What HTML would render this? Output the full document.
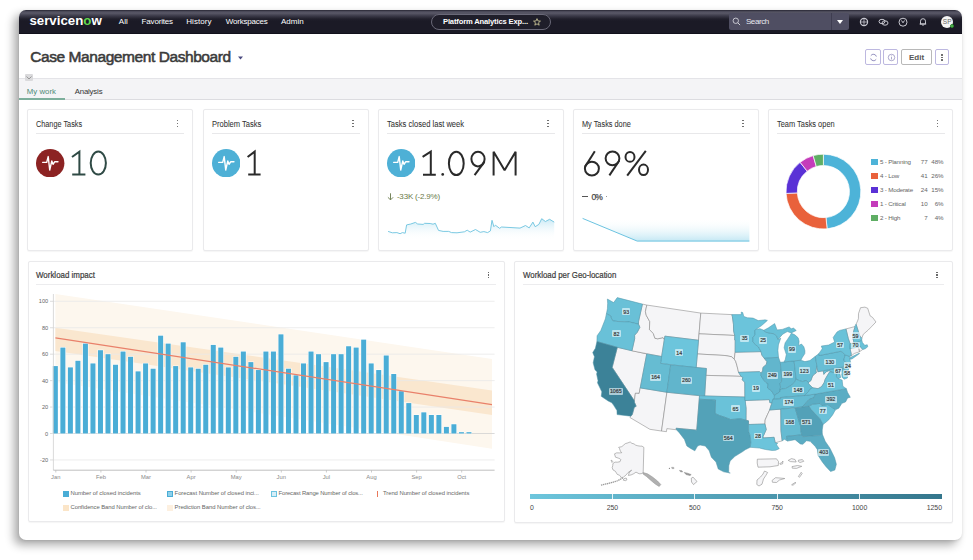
<!DOCTYPE html><html><head><meta charset='utf-8'><style>
*{margin:0;padding:0;box-sizing:border-box}
html,body{width:973px;height:560px;overflow:hidden;background:#fff}
body{position:relative;font-family:"Liberation Sans",sans-serif}
.t{position:absolute;white-space:nowrap;line-height:1}
.thin{-webkit-text-stroke:0.9px #fff}
</style></head><body><div style="position:absolute;left:19px;top:10px;width:943px;height:530px;border-radius:7px;background:#fff;box-shadow:-5px 5px 10px rgba(0,0,0,0.33), 0 1px 3px rgba(0,0,0,0.10)"></div>
<div style="position:absolute;left:19px;top:10px;width:943px;height:530px;border-radius:7px;overflow:hidden">
<div style="position:absolute;left:0;top:0;width:943px;height:24px;background:linear-gradient(to bottom,#262532 0px,#4a4958 1.5px,#5a5968 3px,#3a3947 6px,#201f2b 9px,#1b1a26 11px,#1b1a26 22.5px,#0c0b16 24px)"></div>
</div>
<div class="t " style="left:29.40px;top:14.00px;font-size:13.3px;color:#fff;font-weight:bold;">servicen<span style="color:#62d84e">o</span>w</div>
<div class="t " style="left:118.70px;top:18.00px;font-size:8px;color:#fff;letter-spacing:0.136px;">All</div>
<div class="t " style="left:141.60px;top:18.00px;font-size:8px;color:#fff;letter-spacing:-0.178px;">Favorites</div>
<div class="t " style="left:186.20px;top:18.00px;font-size:8px;color:#fff;letter-spacing:0.073px;">History</div>
<div class="t " style="left:225.80px;top:18.00px;font-size:8px;color:#fff;letter-spacing:-0.207px;">Workspaces</div>
<div class="t " style="left:281.00px;top:18.00px;font-size:8px;color:#fff;letter-spacing:0.025px;">Admin</div>
<div style="position:absolute;left:430.5px;top:14px;width:120px;height:15.5px;border:1px solid #6a6978;border-radius:8px;background:#1f1e2a"></div>
<div class="t " style="left:443.00px;top:18.00px;font-size:7.6px;color:#fff;font-weight:bold;letter-spacing:-0.157px;">Platform Analytics Exp...</div>
<svg style="position:absolute;left:533px;top:18px" width="8" height="8" viewBox="0 0 10 10"><path d="M5 0.8L6.2 3.7 9.3 3.9 6.9 5.9 7.7 9 5 7.3 2.3 9 3.1 5.9 0.7 3.9 3.8 3.7Z" fill="none" stroke="#d8d2a0" stroke-width="1"/></svg>
<div style="position:absolute;left:728.6px;top:13px;width:120px;height:17px;background:#4f4e62;border-radius:2px"></div>
<div style="position:absolute;left:831px;top:13px;width:1px;height:17px;background:#3e3d50"></div>
<svg style="position:absolute;left:732px;top:17px" width="9" height="9" viewBox="0 0 10 10"><circle cx="4.2" cy="4.2" r="3" fill="none" stroke="#d0d0d8" stroke-width="1"/><path d="M6.4 6.4L9 9" stroke="#d0d0d8" stroke-width="1.1"/></svg>
<div class="t " style="left:745.90px;top:18.00px;font-size:8px;color:#e8e8ee;letter-spacing:-0.391px;">Search</div>
<svg style="position:absolute;left:836.5px;top:19.5px" width="6" height="4" viewBox="0 0 6 4"><path d="M0 0H6L3 4Z" fill="#fff"/></svg>
<svg style="position:absolute;left:858px;top:16px" width="12" height="12" viewBox="0 0 12 12"><circle cx="6" cy="6" r="3.6" fill="none" stroke="#c8c8d0" stroke-width="1.2"/><path d="M2.6 6H9.4M6 2.4V9.6" stroke="#c8c8d0" stroke-width="0.8"/></svg>
<svg style="position:absolute;left:877px;top:16px" width="13" height="12" viewBox="0 0 13 12"><ellipse cx="5" cy="5.5" rx="3" ry="2.2" fill="none" stroke="#c8c8d0" stroke-width="1"/><ellipse cx="8" cy="7" rx="3" ry="2.2" fill="none" stroke="#c8c8d0" stroke-width="1"/></svg>
<svg style="position:absolute;left:897px;top:15.5px" width="12" height="12" viewBox="0 0 12 12"><circle cx="6" cy="6.2" r="4" fill="none" stroke="#c8c8d0" stroke-width="1"/><path d="M4.5 4.5L6 6.8 7.5 4.5" fill="none" stroke="#c8c8d0" stroke-width="1"/></svg>
<svg style="position:absolute;left:917px;top:16px" width="12" height="12" viewBox="0 0 12 12"><path d="M3.5 8V5.2A2.5 2.5 0 0 1 8.5 5.2V8H2.8H9.2M5.3 9.2H6.7" fill="none" stroke="#c8c8d0" stroke-width="1"/></svg>
<div style="position:absolute;left:941px;top:15.5px;width:12.4px;height:12.4px;border-radius:50%;background:#f4f4f4"></div>
<div class="t " style="left:942.86px;top:19.00px;font-size:6.5px;color:#666;">SP</div>
<div style="position:absolute;left:949.5px;top:23.5px;width:4.5px;height:4.5px;border-radius:50%;background:#5cb85c;border:0.8px solid #2a8a2a"></div>
<div class="t " style="left:30.20px;top:49.00px;font-size:15.5px;color:#3b3b3b;letter-spacing:-0.424px;-webkit-text-stroke:0.55px #3b3b3b;">Case Management Dashboard</div>
<svg style="position:absolute;left:238px;top:56px" width="5" height="4" viewBox="0 0 5 4"><path d="M0 0.5H5L2.5 3.5Z" fill="#4a4a80"/></svg>
<div style="position:absolute;left:865px;top:49.4px;width:15.5px;height:15.3px;border:1px solid #bdb8e0;border-radius:2px;background:#fff"></div>
<div style="position:absolute;left:883.4px;top:49.4px;width:14.6px;height:15.3px;border:1px solid #bdb8e0;border-radius:2px;background:#fff"></div>
<div style="position:absolute;left:901.4px;top:49.4px;width:30.3px;height:15.3px;border:1px solid #b8b8b8;border-radius:2px;background:#fff"></div>
<div style="position:absolute;left:934.6px;top:49.4px;width:14.7px;height:15.3px;border:1px solid #bdb8e0;border-radius:2px;background:#fff"></div>
<svg style="position:absolute;left:868.5px;top:52.8px" width="9" height="9" viewBox="0 0 10 10"><path d="M8.2 4A3.4 3.4 0 0 0 2 3M1.8 6A3.4 3.4 0 0 0 8 7" fill="none" stroke="#8884b8" stroke-width="1"/></svg>
<svg style="position:absolute;left:886.5px;top:52.8px" width="9" height="9" viewBox="0 0 10 10"><circle cx="5" cy="5" r="3.6" fill="none" stroke="#9995c0" stroke-width="0.9"/><path d="M5 4.2V7.2M5 2.8V3.4" stroke="#9995c0" stroke-width="0.9"/></svg>
<div class="t " style="left:908.95px;top:54.00px;font-size:8px;color:#555;font-weight:bold;">Edit</div>
<div style="position:absolute;left:941.3px;top:54.3px;width:1.3px;height:1.3px;background:#707070"></div>
<div style="position:absolute;left:941.3px;top:56.8px;width:1.3px;height:1.3px;background:#707070"></div>
<div style="position:absolute;left:941.3px;top:59.3px;width:1.3px;height:1.3px;background:#707070"></div>
<div style="position:absolute;left:19px;top:77.5px;width:943px;height:22.5px;background:#f4f4f6;border-top:1px solid #e4e4e8;border-bottom:1px solid #dcdce0"></div>
<div style="position:absolute;left:25px;top:74.2px;width:7.6px;height:7.2px;background:#dadadc;border-radius:1px"></div>
<svg style="position:absolute;left:26px;top:75.5px" width="6" height="4" viewBox="0 0 6 4"><path d="M0.5 0.5L3 3 5.5 0.5" fill="none" stroke="#888" stroke-width="0.8"/></svg>
<div class="t " style="left:26.70px;top:88.00px;font-size:7.8px;color:#4f8a77;letter-spacing:0.052px;">My work</div>
<div style="position:absolute;left:19px;top:98px;width:45.7px;height:1.8px;background:#7daf9c"></div>
<div class="t " style="left:74.70px;top:88.00px;font-size:7.8px;color:#333;letter-spacing:-0.168px;">Analysis</div>
<div style="position:absolute;left:27.2px;top:109.2px;width:165.6px;height:141.4px;background:#fff;border:1px solid #eaeaec;border-radius:2px;box-shadow:0 0.5px 1px rgba(0,0,0,0.04)"></div>
<div class="t" style="left:35.70px;top:120.00px;font-size:8.9px;color:#333;transform:scaleX(0.8215);transform-origin:0 0;-webkit-text-stroke:0.05px #333;">Change Tasks</div>
<div style="position:absolute;left:35.7px;top:133px;width:148.6px;height:1px;background:#e8e8ea"></div>
<div style="position:absolute;left:176.6px;top:119.89999999999999px;width:1.4px;height:1.4px;background:#6a6a6a;border-radius:0.3px"></div>
<div style="position:absolute;left:176.6px;top:122.7px;width:1.4px;height:1.4px;background:#6a6a6a;border-radius:0.3px"></div>
<div style="position:absolute;left:176.6px;top:125.5px;width:1.4px;height:1.4px;background:#6a6a6a;border-radius:0.3px"></div>
<div style="position:absolute;left:203px;top:109.2px;width:165.6px;height:141.4px;background:#fff;border:1px solid #eaeaec;border-radius:2px;box-shadow:0 0.5px 1px rgba(0,0,0,0.04)"></div>
<div class="t" style="left:211.50px;top:120.00px;font-size:8.9px;color:#333;transform:scaleX(0.8505);transform-origin:0 0;-webkit-text-stroke:0.05px #333;">Problem Tasks</div>
<div style="position:absolute;left:211.5px;top:133px;width:148.6px;height:1px;background:#e8e8ea"></div>
<div style="position:absolute;left:352.4px;top:119.89999999999999px;width:1.4px;height:1.4px;background:#6a6a6a;border-radius:0.3px"></div>
<div style="position:absolute;left:352.4px;top:122.7px;width:1.4px;height:1.4px;background:#6a6a6a;border-radius:0.3px"></div>
<div style="position:absolute;left:352.4px;top:125.5px;width:1.4px;height:1.4px;background:#6a6a6a;border-radius:0.3px"></div>
<div style="position:absolute;left:378px;top:109.2px;width:185.5px;height:141.4px;background:#fff;border:1px solid #eaeaec;border-radius:2px;box-shadow:0 0.5px 1px rgba(0,0,0,0.04)"></div>
<div class="t" style="left:386.50px;top:120.00px;font-size:8.9px;color:#333;transform:scaleX(0.8539);transform-origin:0 0;-webkit-text-stroke:0.05px #333;">Tasks closed last week</div>
<div style="position:absolute;left:386.5px;top:133px;width:168.5px;height:1px;background:#e8e8ea"></div>
<div style="position:absolute;left:547.3px;top:119.89999999999999px;width:1.4px;height:1.4px;background:#6a6a6a;border-radius:0.3px"></div>
<div style="position:absolute;left:547.3px;top:122.7px;width:1.4px;height:1.4px;background:#6a6a6a;border-radius:0.3px"></div>
<div style="position:absolute;left:547.3px;top:125.5px;width:1.4px;height:1.4px;background:#6a6a6a;border-radius:0.3px"></div>
<div style="position:absolute;left:573px;top:109.2px;width:185.5px;height:141.4px;background:#fff;border:1px solid #eaeaec;border-radius:2px;box-shadow:0 0.5px 1px rgba(0,0,0,0.04)"></div>
<div class="t" style="left:581.50px;top:120.00px;font-size:8.9px;color:#333;transform:scaleX(0.8277);transform-origin:0 0;-webkit-text-stroke:0.05px #333;">My Tasks done</div>
<div style="position:absolute;left:581.5px;top:133px;width:168.5px;height:1px;background:#e8e8ea"></div>
<div style="position:absolute;left:742.3px;top:119.89999999999999px;width:1.4px;height:1.4px;background:#6a6a6a;border-radius:0.3px"></div>
<div style="position:absolute;left:742.3px;top:122.7px;width:1.4px;height:1.4px;background:#6a6a6a;border-radius:0.3px"></div>
<div style="position:absolute;left:742.3px;top:125.5px;width:1.4px;height:1.4px;background:#6a6a6a;border-radius:0.3px"></div>
<div style="position:absolute;left:768px;top:109.2px;width:185px;height:141.4px;background:#fff;border:1px solid #eaeaec;border-radius:2px;box-shadow:0 0.5px 1px rgba(0,0,0,0.04)"></div>
<div class="t" style="left:776.50px;top:120.00px;font-size:8.9px;color:#333;transform:scaleX(0.8365);transform-origin:0 0;-webkit-text-stroke:0.05px #333;">Team Tasks open</div>
<div style="position:absolute;left:776.5px;top:133px;width:168px;height:1px;background:#e8e8ea"></div>
<div style="position:absolute;left:936.8px;top:119.89999999999999px;width:1.4px;height:1.4px;background:#6a6a6a;border-radius:0.3px"></div>
<div style="position:absolute;left:936.8px;top:122.7px;width:1.4px;height:1.4px;background:#6a6a6a;border-radius:0.3px"></div>
<div style="position:absolute;left:936.8px;top:125.5px;width:1.4px;height:1.4px;background:#6a6a6a;border-radius:0.3px"></div>
<svg style="position:absolute;left:36.40px;top:149.00px" width="28.40" height="28.40" viewBox="-15 -15 30 30"><circle cx="0" cy="0" r="15" fill="#8c2323"/><path d="M-8 -0.9H-3.7L-2.1 -7L-0.5 7.2L1.7 -2.4L3 1.2L4.7 -1.5H8.2" fill="none" stroke="#fff" stroke-width="1.5" stroke-linejoin="round" stroke-linecap="round"/></svg>
<svg style="position:absolute;left:211.70px;top:148.90px" width="28.40" height="28.40" viewBox="-15 -15 30 30"><circle cx="0" cy="0" r="15" fill="#4eb0d6"/><path d="M-8 -0.9H-3.7L-2.1 -7L-0.5 7.2L1.7 -2.4L3 1.2L4.7 -1.5H8.2" fill="none" stroke="#fff" stroke-width="1.5" stroke-linejoin="round" stroke-linecap="round"/></svg>
<svg style="position:absolute;left:387.00px;top:149.00px" width="28.40" height="28.40" viewBox="-15 -15 30 30"><circle cx="0" cy="0" r="15" fill="#4eb0d6"/><path d="M-8 -0.9H-3.7L-2.1 -7L-0.5 7.2L1.7 -2.4L3 1.2L4.7 -1.5H8.2" fill="none" stroke="#fff" stroke-width="1.5" stroke-linejoin="round" stroke-linecap="round"/></svg>
<svg style="position:absolute;left:0;top:0" width="973" height="560" fill="none" stroke-linecap="butt">
<g stroke="#2f4a45" stroke-width="2.0"><path d="M72 157L79.4 151.6V174.6M72.2 174.6H85.4"/><ellipse cx="98.3" cy="163.1" rx="7.6" ry="11.5"/></g>
<g stroke="#2a2a2a" stroke-width="2.0">
<path d="M247.6 157L254.7 151.6V174.4M248.2 174.4H260.6"/>
<path d="M422.6 156.8L430.8 151.6V174.7M423 174.7H435.8"/>
<ellipse cx="456.3" cy="163.4" rx="7.4" ry="11.7"/>
<ellipse cx="478" cy="159.1" rx="6.6" ry="7.3"/><path d="M484.4 161.8L474.6 175.2"/>
<path d="M493.6 175.6V151.8L504.6 170.2L515.6 151.8V175.6" stroke-linejoin="bevel"/>
<ellipse cx="591.9" cy="168.6" rx="7.0" ry="6.8"/><path d="M594.8 151.2L585.4 166.3"/>
<ellipse cx="612.5" cy="158.3" rx="6.9" ry="6.9"/><path d="M619.2 160.8L609.4 175.4"/>
<ellipse cx="630" cy="156.9" rx="4.5" ry="4.9"/><ellipse cx="643.5" cy="169.8" rx="4.5" ry="5.2"/><path d="M645.8 150.8L627.2 175.6"/>
</g><circle cx="442.7" cy="174.4" r="1.35" fill="#2a2a2a"/></svg>
<svg style="position:absolute;left:387px;top:192.8px" width="7" height="7.5" viewBox="0 0 7 7.5"><path d="M3.5 0.3V6.8M0.9 4.3L3.5 6.9 6.1 4.3" fill="none" stroke="#68784a" stroke-width="0.9"/></svg>
<div class="t " style="left:396.90px;top:193.00px;font-size:8px;color:#6a7a48;letter-spacing:-0.187px;">-33K (-2.9%)</div>
<div style="position:absolute;left:582.3px;top:196.1px;width:5.8px;height:1.0px;background:#555"></div>
<div class="t " style="left:591.40px;top:193.00px;font-size:8.5px;color:#4a4a4a;letter-spacing:-0.893px;-webkit-text-stroke:0.25px #4a4a4a;">0%</div>
<div style="position:absolute;left:606px;top:196.2px;width:0.9px;height:0.9px;background:#999"></div>
<svg style="position:absolute;left:0;top:0" width="973" height="560"><defs>
<linearGradient id="g3" x1="0" y1="218" x2="0" y2="240" gradientUnits="userSpaceOnUse"><stop offset="0" stop-color="#bfe5f3" stop-opacity="0.9"/><stop offset="1" stop-color="#ffffff" stop-opacity="0"/></linearGradient>
<linearGradient id="g4" x1="0" y1="218" x2="0" y2="241" gradientUnits="userSpaceOnUse"><stop offset="0" stop-color="#ffffff" stop-opacity="0"/><stop offset="1" stop-color="#c4e8f4" stop-opacity="1"/></linearGradient>
</defs>
<polygon points="388.1,231.4 392.3,232.8 396.9,232.6 400.1,233.7 402.4,232.6 405.2,233.2 406.6,224.9 410.8,224.0 415.4,222.4 417.7,224.0 423.2,224.4 424.6,223.3 430.2,223.5 433.0,224.2 435.3,223.3 438.5,230.4 443.1,231.4 448.7,231.4 451.5,232.6 457.0,232.8 464.4,231.8 467.2,230.2 470.2,232.1 475.5,229.5 480.2,232.3 483.9,231.6 487.6,232.6 490.4,230.9 492.0,220.3 493.9,226.7 495.4,225.2 499.6,228.3 501.5,227.0 520.0,228.1 525.5,225.5 529.2,227.9 532.9,222.1 535.2,226.7 538.9,224.4 541.7,218.7 545.4,221.5 549.6,219.3 554.2,222.1 554.2,240 388.1,240" fill="url(#g3)"/>
<polyline points="388.1,231.4 392.3,232.8 396.9,232.6 400.1,233.7 402.4,232.6 405.2,233.2 406.6,224.9 410.8,224.0 415.4,222.4 417.7,224.0 423.2,224.4 424.6,223.3 430.2,223.5 433.0,224.2 435.3,223.3 438.5,230.4 443.1,231.4 448.7,231.4 451.5,232.6 457.0,232.8 464.4,231.8 467.2,230.2 470.2,232.1 475.5,229.5 480.2,232.3 483.9,231.6 487.6,232.6 490.4,230.9 492.0,220.3 493.9,226.7 495.4,225.2 499.6,228.3 501.5,227.0 520.0,228.1 525.5,225.5 529.2,227.9 532.9,222.1 535.2,226.7 538.9,224.4 541.7,218.7 545.4,221.5 549.6,219.3 554.2,222.1" fill="none" stroke="#6cc3df" stroke-width="0.9"/>
<polygon points="583,218.4 749.4,218.4 749.4,241.1 637.2,241.1" fill="url(#g4)"/>
<polyline points="582.6,218.4 637.2,241.1 749.4,241.1" fill="none" stroke="#5bbcdc" stroke-width="0.9"/>
</svg>
<svg style="position:absolute;left:0;top:0" width="973" height="560"><path d="M823.40 154.20A37.4 37.4 0 0 1 827.09 228.82L825.97 217.57A26.1 26.1 0 0 0 823.40 165.50Z" fill="#4db3d8" stroke="#fff" stroke-width="0.7"/><path d="M827.09 228.82A37.4 37.4 0 0 1 786.05 193.45L797.33 192.89A26.1 26.1 0 0 0 825.97 217.57Z" fill="#e9613b" stroke="#fff" stroke-width="0.7"/><path d="M786.05 193.45A37.4 37.4 0 0 1 800.12 162.33L807.16 171.17A26.1 26.1 0 0 0 797.33 192.89Z" fill="#5a31d6" stroke="#fff" stroke-width="0.7"/><path d="M800.12 162.33A37.4 37.4 0 0 1 813.19 155.62L816.27 166.49A26.1 26.1 0 0 0 807.16 171.17Z" fill="#c43cba" stroke="#fff" stroke-width="0.7"/><path d="M813.19 155.62A37.4 37.4 0 0 1 823.40 154.20L823.40 165.50A26.1 26.1 0 0 0 816.27 166.49Z" fill="#5fae64" stroke="#fff" stroke-width="0.7"/></svg>
<div style="position:absolute;left:871.4px;top:158.9px;width:6.2px;height:6.4px;background:#4db3d8"></div>
<div class="t " style="left:880.00px;top:159.00px;font-size:6.2px;color:#666;letter-spacing:-0.18px;">5 - Planning</div>
<div class="t " style="left:920.70px;top:159.00px;font-size:6.2px;color:#666;">77</div>
<div class="t " style="left:931.19px;top:159.00px;font-size:6.2px;color:#666;">48%</div>
<div style="position:absolute;left:871.4px;top:172.85px;width:6.2px;height:6.4px;background:#e9613b"></div>
<div class="t " style="left:880.00px;top:173.00px;font-size:6.2px;color:#666;letter-spacing:-0.18px;">4 - Low</div>
<div class="t " style="left:920.70px;top:173.00px;font-size:6.2px;color:#666;">41</div>
<div class="t " style="left:931.19px;top:173.00px;font-size:6.2px;color:#666;">26%</div>
<div style="position:absolute;left:871.4px;top:186.8px;width:6.2px;height:6.4px;background:#5a31d6"></div>
<div class="t " style="left:880.00px;top:187.00px;font-size:6.2px;color:#666;letter-spacing:-0.18px;">3 - Moderate</div>
<div class="t " style="left:920.70px;top:187.00px;font-size:6.2px;color:#666;">24</div>
<div class="t " style="left:931.19px;top:187.00px;font-size:6.2px;color:#666;">15%</div>
<div style="position:absolute;left:871.4px;top:200.75px;width:6.2px;height:6.4px;background:#c43cba"></div>
<div class="t " style="left:880.00px;top:201.00px;font-size:6.2px;color:#666;letter-spacing:-0.18px;">1 - Critical</div>
<div class="t " style="left:920.70px;top:201.00px;font-size:6.2px;color:#666;">10</div>
<div class="t " style="left:934.64px;top:201.00px;font-size:6.2px;color:#666;">6%</div>
<div style="position:absolute;left:871.4px;top:214.7px;width:6.2px;height:6.4px;background:#5fae64"></div>
<div class="t " style="left:880.00px;top:215.00px;font-size:6.2px;color:#666;letter-spacing:-0.18px;">2 - High</div>
<div class="t " style="left:924.15px;top:215.00px;font-size:6.2px;color:#666;">7</div>
<div class="t " style="left:934.64px;top:215.00px;font-size:6.2px;color:#666;">4%</div>
<div style="position:absolute;left:27.5px;top:261px;width:477px;height:260.5px;background:#fff;border:1px solid #eaeaec;border-radius:2px;box-shadow:0 0.5px 1px rgba(0,0,0,0.04)"></div>
<div class="t" style="left:35.80px;top:271.00px;font-size:8.9px;color:#3a3a3a;transform:scaleX(0.8939);transform-origin:0 0;-webkit-text-stroke:0.2px #3a3a3a;">Workload impact</div>
<div style="position:absolute;left:35.8px;top:284.2px;width:460px;height:1px;background:#ececee"></div>
<div style="position:absolute;left:488.0px;top:271.5px;width:1.4px;height:1.4px;background:#6a6a6a"></div>
<div style="position:absolute;left:488.0px;top:274.3px;width:1.4px;height:1.4px;background:#6a6a6a"></div>
<div style="position:absolute;left:488.0px;top:277.1px;width:1.4px;height:1.4px;background:#6a6a6a"></div>
<div style="position:absolute;left:514px;top:261px;width:439px;height:261.5px;background:#fff;border:1px solid #eaeaec;border-radius:2px;box-shadow:0 0.5px 1px rgba(0,0,0,0.04)"></div>
<div class="t" style="left:523.40px;top:271.00px;font-size:8.9px;color:#3a3a3a;transform:scaleX(0.8855);transform-origin:0 0;-webkit-text-stroke:0.2px #3a3a3a;">Workload per Geo-location</div>
<div style="position:absolute;left:523.4px;top:284.2px;width:421px;height:1px;background:#ececee"></div>
<div style="position:absolute;left:936.4px;top:271.5px;width:1.4px;height:1.4px;background:#6a6a6a"></div>
<div style="position:absolute;left:936.4px;top:274.3px;width:1.4px;height:1.4px;background:#6a6a6a"></div>
<div style="position:absolute;left:936.4px;top:277.1px;width:1.4px;height:1.4px;background:#6a6a6a"></div>
<svg style="position:absolute;left:0;top:0" width="973" height="560"><polygon points="55.4,294.03 492.0,358.94 492.0,448.70 55.4,381.94" fill="#fdf7ee"/><polygon points="55.4,327.74 492.0,390.53 492.0,415.12 55.4,350.88" fill="#fae7cf"/><line x1="53.4" y1="301.30" x2="494.6" y2="301.30" stroke="#e9e9e9" stroke-width="0.8"/><line x1="50" y1="301.30" x2="53.4" y2="301.30" stroke="#cfcfcf" stroke-width="0.7"/><line x1="53.4" y1="327.74" x2="494.6" y2="327.74" stroke="#e9e9e9" stroke-width="0.8"/><line x1="50" y1="327.74" x2="53.4" y2="327.74" stroke="#cfcfcf" stroke-width="0.7"/><line x1="53.4" y1="354.18" x2="494.6" y2="354.18" stroke="#e9e9e9" stroke-width="0.8"/><line x1="50" y1="354.18" x2="53.4" y2="354.18" stroke="#cfcfcf" stroke-width="0.7"/><line x1="53.4" y1="380.62" x2="494.6" y2="380.62" stroke="#e9e9e9" stroke-width="0.8"/><line x1="50" y1="380.62" x2="53.4" y2="380.62" stroke="#cfcfcf" stroke-width="0.7"/><line x1="53.4" y1="407.06" x2="494.6" y2="407.06" stroke="#e9e9e9" stroke-width="0.8"/><line x1="50" y1="407.06" x2="53.4" y2="407.06" stroke="#cfcfcf" stroke-width="0.7"/><line x1="53.4" y1="433.50" x2="494.6" y2="433.50" stroke="#d0d0d0" stroke-width="0.8"/><line x1="50" y1="433.50" x2="53.4" y2="433.50" stroke="#cfcfcf" stroke-width="0.7"/><line x1="53.4" y1="459.94" x2="494.6" y2="459.94" stroke="#e9e9e9" stroke-width="0.8"/><line x1="50" y1="459.94" x2="53.4" y2="459.94" stroke="#cfcfcf" stroke-width="0.7"/><rect x="52.35" y="365.58" width="6.0" height="67.92" fill="#fff"/><rect x="52.85" y="366.08" width="5.0" height="67.42" fill="#4aadd6"/><rect x="59.87" y="347.07" width="6.0" height="86.43" fill="#fff"/><rect x="60.37" y="347.57" width="5.0" height="85.93" fill="#4aadd6"/><rect x="67.39" y="366.90" width="6.0" height="66.60" fill="#fff"/><rect x="67.89" y="367.40" width="5.0" height="66.10" fill="#4aadd6"/><rect x="74.91" y="360.29" width="6.0" height="73.21" fill="#fff"/><rect x="75.41" y="360.79" width="5.0" height="72.71" fill="#4aadd6"/><rect x="82.43" y="343.10" width="6.0" height="90.40" fill="#fff"/><rect x="82.93" y="343.60" width="5.0" height="89.90" fill="#4aadd6"/><rect x="89.95" y="362.93" width="6.0" height="70.57" fill="#fff"/><rect x="90.45" y="363.43" width="5.0" height="70.07" fill="#4aadd6"/><rect x="97.47" y="349.71" width="6.0" height="83.79" fill="#fff"/><rect x="97.97" y="350.21" width="5.0" height="83.29" fill="#4aadd6"/><rect x="104.99" y="353.68" width="6.0" height="79.82" fill="#fff"/><rect x="105.49" y="354.18" width="5.0" height="79.32" fill="#4aadd6"/><rect x="112.51" y="364.26" width="6.0" height="69.24" fill="#fff"/><rect x="113.01" y="364.76" width="5.0" height="68.74" fill="#4aadd6"/><rect x="120.03" y="351.04" width="6.0" height="82.46" fill="#fff"/><rect x="120.53" y="351.54" width="5.0" height="81.96" fill="#4aadd6"/><rect x="127.55" y="356.32" width="6.0" height="77.18" fill="#fff"/><rect x="128.05" y="356.82" width="5.0" height="76.68" fill="#4aadd6"/><rect x="135.07" y="370.87" width="6.0" height="62.63" fill="#fff"/><rect x="135.57" y="371.37" width="5.0" height="62.13" fill="#4aadd6"/><rect x="142.59" y="362.93" width="6.0" height="70.57" fill="#fff"/><rect x="143.09" y="363.43" width="5.0" height="70.07" fill="#4aadd6"/><rect x="150.11" y="368.22" width="6.0" height="65.28" fill="#fff"/><rect x="150.61" y="368.72" width="5.0" height="64.78" fill="#4aadd6"/><rect x="157.63" y="335.17" width="6.0" height="98.33" fill="#fff"/><rect x="158.13" y="335.67" width="5.0" height="97.83" fill="#4aadd6"/><rect x="165.15" y="343.10" width="6.0" height="90.40" fill="#fff"/><rect x="165.65" y="343.60" width="5.0" height="89.90" fill="#4aadd6"/><rect x="172.67" y="365.58" width="6.0" height="67.92" fill="#fff"/><rect x="173.17" y="366.08" width="5.0" height="67.42" fill="#4aadd6"/><rect x="180.19" y="341.78" width="6.0" height="91.72" fill="#fff"/><rect x="180.69" y="342.28" width="5.0" height="91.22" fill="#4aadd6"/><rect x="187.71" y="366.90" width="6.0" height="66.60" fill="#fff"/><rect x="188.21" y="367.40" width="5.0" height="66.10" fill="#4aadd6"/><rect x="195.23" y="368.22" width="6.0" height="65.28" fill="#fff"/><rect x="195.73" y="368.72" width="5.0" height="64.78" fill="#4aadd6"/><rect x="202.75" y="364.26" width="6.0" height="69.24" fill="#fff"/><rect x="203.25" y="364.76" width="5.0" height="68.74" fill="#4aadd6"/><rect x="210.27" y="344.43" width="6.0" height="89.07" fill="#fff"/><rect x="210.77" y="344.93" width="5.0" height="88.57" fill="#4aadd6"/><rect x="217.79" y="347.07" width="6.0" height="86.43" fill="#fff"/><rect x="218.29" y="347.57" width="5.0" height="85.93" fill="#4aadd6"/><rect x="225.31" y="366.90" width="6.0" height="66.60" fill="#fff"/><rect x="225.81" y="367.40" width="5.0" height="66.10" fill="#4aadd6"/><rect x="232.83" y="356.32" width="6.0" height="77.18" fill="#fff"/><rect x="233.33" y="356.82" width="5.0" height="76.68" fill="#4aadd6"/><rect x="240.35" y="351.04" width="6.0" height="82.46" fill="#fff"/><rect x="240.85" y="351.54" width="5.0" height="81.96" fill="#4aadd6"/><rect x="247.87" y="361.61" width="6.0" height="71.89" fill="#fff"/><rect x="248.37" y="362.11" width="5.0" height="71.39" fill="#4aadd6"/><rect x="255.39" y="369.54" width="6.0" height="63.96" fill="#fff"/><rect x="255.89" y="370.04" width="5.0" height="63.46" fill="#4aadd6"/><rect x="262.91" y="351.04" width="6.0" height="82.46" fill="#fff"/><rect x="263.41" y="351.54" width="5.0" height="81.96" fill="#4aadd6"/><rect x="270.43" y="351.04" width="6.0" height="82.46" fill="#fff"/><rect x="270.93" y="351.54" width="5.0" height="81.96" fill="#4aadd6"/><rect x="277.95" y="333.85" width="6.0" height="99.65" fill="#fff"/><rect x="278.45" y="334.35" width="5.0" height="99.15" fill="#4aadd6"/><rect x="285.47" y="368.22" width="6.0" height="65.28" fill="#fff"/><rect x="285.97" y="368.72" width="5.0" height="64.78" fill="#4aadd6"/><rect x="292.99" y="374.83" width="6.0" height="58.67" fill="#fff"/><rect x="293.49" y="375.33" width="5.0" height="58.17" fill="#4aadd6"/><rect x="300.51" y="362.93" width="6.0" height="70.57" fill="#fff"/><rect x="301.01" y="363.43" width="5.0" height="70.07" fill="#4aadd6"/><rect x="308.03" y="351.04" width="6.0" height="82.46" fill="#fff"/><rect x="308.53" y="351.54" width="5.0" height="81.96" fill="#4aadd6"/><rect x="315.55" y="353.68" width="6.0" height="79.82" fill="#fff"/><rect x="316.05" y="354.18" width="5.0" height="79.32" fill="#4aadd6"/><rect x="323.07" y="361.61" width="6.0" height="71.89" fill="#fff"/><rect x="323.57" y="362.11" width="5.0" height="71.39" fill="#4aadd6"/><rect x="330.59" y="353.68" width="6.0" height="79.82" fill="#fff"/><rect x="331.09" y="354.18" width="5.0" height="79.32" fill="#4aadd6"/><rect x="338.11" y="353.68" width="6.0" height="79.82" fill="#fff"/><rect x="338.61" y="354.18" width="5.0" height="79.32" fill="#4aadd6"/><rect x="345.63" y="345.75" width="6.0" height="87.75" fill="#fff"/><rect x="346.13" y="346.25" width="5.0" height="87.25" fill="#4aadd6"/><rect x="353.15" y="347.07" width="6.0" height="86.43" fill="#fff"/><rect x="353.65" y="347.57" width="5.0" height="85.93" fill="#4aadd6"/><rect x="360.67" y="339.14" width="6.0" height="94.36" fill="#fff"/><rect x="361.17" y="339.64" width="5.0" height="93.86" fill="#4aadd6"/><rect x="368.19" y="362.93" width="6.0" height="70.57" fill="#fff"/><rect x="368.69" y="363.43" width="5.0" height="70.07" fill="#4aadd6"/><rect x="375.71" y="369.54" width="6.0" height="63.96" fill="#fff"/><rect x="376.21" y="370.04" width="5.0" height="63.46" fill="#4aadd6"/><rect x="383.23" y="355.00" width="6.0" height="78.50" fill="#fff"/><rect x="383.73" y="355.50" width="5.0" height="78.00" fill="#4aadd6"/><rect x="390.75" y="373.51" width="6.0" height="59.99" fill="#fff"/><rect x="391.25" y="374.01" width="5.0" height="59.49" fill="#4aadd6"/><rect x="398.27" y="390.70" width="6.0" height="42.80" fill="#fff"/><rect x="398.77" y="391.20" width="5.0" height="42.30" fill="#4aadd6"/><rect x="405.79" y="402.59" width="6.0" height="30.91" fill="#fff"/><rect x="406.29" y="403.09" width="5.0" height="30.41" fill="#4aadd6"/><rect x="413.31" y="414.49" width="6.0" height="19.01" fill="#fff"/><rect x="413.81" y="414.99" width="5.0" height="18.51" fill="#4aadd6"/><rect x="420.83" y="411.85" width="6.0" height="21.65" fill="#fff"/><rect x="421.33" y="412.35" width="5.0" height="21.15" fill="#4aadd6"/><rect x="428.35" y="414.49" width="6.0" height="19.01" fill="#fff"/><rect x="428.85" y="414.99" width="5.0" height="18.51" fill="#4aadd6"/><rect x="435.87" y="414.49" width="6.0" height="19.01" fill="#fff"/><rect x="436.37" y="414.99" width="5.0" height="18.51" fill="#4aadd6"/><rect x="443.39" y="426.39" width="6.0" height="7.11" fill="#fff"/><rect x="443.89" y="426.89" width="5.0" height="6.61" fill="#4aadd6"/><rect x="450.91" y="423.75" width="6.0" height="9.75" fill="#fff"/><rect x="451.41" y="424.25" width="5.0" height="9.25" fill="#4aadd6"/><rect x="458.43" y="431.68" width="6.0" height="1.82" fill="#fff"/><rect x="458.93" y="432.18" width="5.0" height="1.32" fill="#4aadd6"/><rect x="465.95" y="431.68" width="6.0" height="1.82" fill="#fff"/><rect x="466.45" y="432.18" width="5.0" height="1.32" fill="#4aadd6"/><line x1="55.4" y1="337.92" x2="492.0" y2="404.55" stroke="#e9806a" stroke-width="1.2"/><line x1="53.4" y1="294" x2="53.4" y2="470.2" stroke="#d0d0d0" stroke-width="0.8"/><line x1="53.4" y1="470.2" x2="494.6" y2="470.2" stroke="#b8b8b8" stroke-width="0.9"/><line x1="55.80" y1="470.2" x2="55.80" y2="472.5" stroke="#b8b8b8" stroke-width="0.7"/><line x1="100.90" y1="470.2" x2="100.90" y2="472.5" stroke="#b8b8b8" stroke-width="0.7"/><line x1="146.00" y1="470.2" x2="146.00" y2="472.5" stroke="#b8b8b8" stroke-width="0.7"/><line x1="191.10" y1="470.2" x2="191.10" y2="472.5" stroke="#b8b8b8" stroke-width="0.7"/><line x1="236.20" y1="470.2" x2="236.20" y2="472.5" stroke="#b8b8b8" stroke-width="0.7"/><line x1="281.30" y1="470.2" x2="281.30" y2="472.5" stroke="#b8b8b8" stroke-width="0.7"/><line x1="326.40" y1="470.2" x2="326.40" y2="472.5" stroke="#b8b8b8" stroke-width="0.7"/><line x1="371.50" y1="470.2" x2="371.50" y2="472.5" stroke="#b8b8b8" stroke-width="0.7"/><line x1="416.60" y1="470.2" x2="416.60" y2="472.5" stroke="#b8b8b8" stroke-width="0.7"/><line x1="461.70" y1="470.2" x2="461.70" y2="472.5" stroke="#b8b8b8" stroke-width="0.7"/></svg>
<div class="t " style="left:38.86px;top:299.00px;font-size:5.6px;color:#666;">100</div>
<div class="t " style="left:41.97px;top:326.00px;font-size:5.6px;color:#666;">80</div>
<div class="t " style="left:41.97px;top:352.00px;font-size:5.6px;color:#666;">60</div>
<div class="t " style="left:41.97px;top:379.00px;font-size:5.6px;color:#666;">40</div>
<div class="t " style="left:41.97px;top:405.00px;font-size:5.6px;color:#666;">20</div>
<div class="t " style="left:45.09px;top:432.00px;font-size:5.6px;color:#666;">0</div>
<div class="t " style="left:40.11px;top:458.00px;font-size:5.6px;color:#666;">-20</div>
<div class="t " style="left:51.12px;top:475.00px;font-size:5.8px;color:#8a8a8a;">Jan</div>
<div class="t " style="left:95.90px;top:475.00px;font-size:5.8px;color:#8a8a8a;">Feb</div>
<div class="t " style="left:141.01px;top:475.00px;font-size:5.8px;color:#8a8a8a;">Mar</div>
<div class="t " style="left:186.59px;top:475.00px;font-size:5.8px;color:#8a8a8a;">Apr</div>
<div class="t " style="left:230.72px;top:475.00px;font-size:5.8px;color:#8a8a8a;">May</div>
<div class="t " style="left:276.62px;top:475.00px;font-size:5.8px;color:#8a8a8a;">Jun</div>
<div class="t " style="left:322.69px;top:475.00px;font-size:5.8px;color:#8a8a8a;">Jul</div>
<div class="t " style="left:366.34px;top:475.00px;font-size:5.8px;color:#8a8a8a;">Aug</div>
<div class="t " style="left:411.44px;top:475.00px;font-size:5.8px;color:#8a8a8a;">Sep</div>
<div class="t " style="left:457.19px;top:475.00px;font-size:5.8px;color:#8a8a8a;">Oct</div>
<div style="position:absolute;left:62.8px;top:490.6px;width:5.8px;height:6.4px;background:#4aadd6"></div>
<div class="t " style="left:70.50px;top:491.00px;font-size:5.9px;color:#666;letter-spacing:-0.033px;">Number of closed incidents</div>
<div style="position:absolute;left:167px;top:490.6px;width:5.8px;height:6.4px;background:#8ed0ea;border:0.8px solid #4aadd6"></div>
<div class="t " style="left:174.60px;top:491.00px;font-size:5.9px;color:#666;letter-spacing:-0.056px;">Forecast Number of closed inci...</div>
<div style="position:absolute;left:270.8px;top:490.6px;width:5.8px;height:6.4px;background:#d6eef8;border:0.8px solid #6cc3df"></div>
<div class="t " style="left:278.50px;top:491.00px;font-size:5.9px;color:#666;letter-spacing:-0.122px;">Forecast Range Number of clos...</div>
<div style="position:absolute;left:377.2px;top:490.8px;width:1.1px;height:6px;background:#e9785a"></div>
<div class="t " style="left:382.90px;top:491.00px;font-size:5.9px;color:#666;letter-spacing:-0.044px;">Trend Number of closed incidents</div>
<div style="position:absolute;left:62.8px;top:504.8px;width:5.8px;height:6.4px;background:#fbe5c8"></div>
<div class="t " style="left:70.50px;top:505.00px;font-size:5.9px;color:#666;letter-spacing:-0.064px;">Confidence Band Number of clo...</div>
<div style="position:absolute;left:167px;top:504.8px;width:5.8px;height:6.4px;background:#fdf0e0"></div>
<div class="t " style="left:174.60px;top:505.00px;font-size:5.9px;color:#666;letter-spacing:-0.051px;">Prediction Band Number of clos...</div>
<svg style="position:absolute;left:0;top:0" width="973" height="560"><path d="M617.35 347.32L646.74 353.93L639.16 393.38L635.38 393.27L634.39 400.83L612.17 367.39Z" fill="#f5f5f7" stroke="#7a7a7a" stroke-width="0.5" stroke-linejoin="round"/><path d="M642.46 304.09L646.82 305.05L645.40 311.68L646.28 315.34L649.78 321.62L649.42 329.57L653.33 333.46L654.91 338.29L657.79 338.80L663.08 337.60L664.34 339.54L661.63 356.54L631.94 350.84L634.66 338.74L634.61 335.20L637.26 332.28L639.86 327.23L638.49 324.13L638.62 321.14Z" fill="#f5f5f7" stroke="#7a7a7a" stroke-width="0.5" stroke-linejoin="round"/><path d="M646.82 305.05L700.80 313.08L698.50 340.26L664.88 336.15L664.34 339.54L663.08 337.60L657.79 338.80L654.91 338.29L653.33 333.46L649.42 329.57L649.78 321.62L646.28 315.34L645.40 311.68Z" fill="#f5f5f7" stroke="#7a7a7a" stroke-width="0.5" stroke-linejoin="round"/><path d="M640.22 387.88L666.90 392.28L661.54 431.05L649.89 429.31L629.96 417.54L630.82 416.16L632.35 414.29L634.25 407.28L636.16 406.31L634.45 402.25L634.39 400.83L635.38 393.27L639.16 393.38Z" fill="#f5f5f7" stroke="#7a7a7a" stroke-width="0.5" stroke-linejoin="round"/><path d="M666.90 392.28L699.50 395.73L699.24 399.18L696.73 430.15L676.11 428.22L676.46 429.79L666.85 428.63L666.45 431.70L661.54 431.05Z" fill="#f5f5f7" stroke="#7a7a7a" stroke-width="0.5" stroke-linejoin="round"/><path d="M700.80 313.08L731.80 314.60L732.37 316.64L733.45 324.12L733.62 330.94L734.73 335.46L699.04 333.84Z" fill="#f5f5f7" stroke="#7a7a7a" stroke-width="0.5" stroke-linejoin="round"/><path d="M699.04 333.84L734.73 335.46L734.70 339.84L735.23 339.84L735.17 352.21L734.24 359.10L731.41 356.66L724.94 355.50L697.33 353.96Z" fill="#f5f5f7" stroke="#7a7a7a" stroke-width="0.5" stroke-linejoin="round"/><path d="M697.33 353.96L724.94 355.50L731.41 356.66L734.24 359.10L735.64 361.17L736.89 365.32L737.91 369.46L738.59 372.36L741.04 376.36L705.95 375.37L706.39 368.47L696.17 367.71Z" fill="#f5f5f7" stroke="#7a7a7a" stroke-width="0.5" stroke-linejoin="round"/><path d="M705.95 375.37L741.04 376.36L742.87 377.38L742.11 379.81L744.77 382.20L744.88 397.07L704.63 396.08Z" fill="#f5f5f7" stroke="#7a7a7a" stroke-width="0.5" stroke-linejoin="round"/><path d="M744.93 400.53L769.30 399.60L769.87 402.69L771.98 402.90L770.80 406.09L769.66 409.97L767.67 414.24L765.15 419.91L764.97 424.06L748.59 424.51L748.51 420.85L746.01 420.28L746.09 408.12Z" fill="#f5f5f7" stroke="#7a7a7a" stroke-width="0.5" stroke-linejoin="round"/><path d="M735.17 352.21L761.04 351.62L761.81 355.03L764.29 358.35L766.96 361.65L766.37 364.45L762.96 367.41L762.62 370.88L761.19 373.17L759.41 371.66L738.59 372.36L737.91 369.46L736.89 365.32L735.64 361.17L734.24 359.10Z" fill="#f5f5f7" stroke="#7a7a7a" stroke-width="0.5" stroke-linejoin="round"/><path d="M764.97 424.06L765.15 419.91L767.67 414.24L769.66 409.97L780.76 409.18L780.95 430.61L782.18 440.86L775.21 442.75L774.08 437.32L762.98 437.94L763.09 436.56L766.23 429.52Z" fill="#f5f5f7" stroke="#7a7a7a" stroke-width="0.5" stroke-linejoin="round"/><path d="M808.42 382.42L808.61 383.79L812.61 387.83L818.03 388.67L821.53 386.70L824.12 382.75L825.16 379.41L827.62 375.10L829.70 371.90L832.40 372.09L828.93 370.64L825.96 371.89L823.85 374.37L823.22 370.83L817.87 371.74L816.84 365.46L816.55 367.19L815.97 370.79L816.30 372.84L813.21 375.07L812.17 376.98L810.85 380.68Z" fill="#f5f5f7" stroke="#7a7a7a" stroke-width="0.5" stroke-linejoin="round"/><path d="M845.96 328.91L854.62 326.65L854.81 327.38L853.49 331.98L852.78 337.13L854.01 343.00L850.10 343.83L848.23 338.26Z" fill="#f5f5f7" stroke="#7a7a7a" stroke-width="0.5" stroke-linejoin="round"/><path d="M856.06 324.20L857.57 320.96L858.41 318.59L858.49 313.60L860.52 307.71L864.92 307.12L867.71 308.27L870.14 315.89L872.48 317.32L875.96 321.98L872.12 326.04L868.21 330.07L863.28 334.34L861.81 338.31L859.80 336.01Z" fill="#f5f5f7" stroke="#7a7a7a" stroke-width="0.5" stroke-linejoin="round"/><path d="M858.40 346.93L860.45 346.39L862.75 349.49L859.40 351.80Z" fill="#f5f5f7" stroke="#7a7a7a" stroke-width="0.5" stroke-linejoin="round"/><path d="M850.01 348.82L858.40 346.93L859.40 351.80L854.29 353.46L850.97 356.05L851.23 353.85Z" fill="#f5f5f7" stroke="#7a7a7a" stroke-width="0.5" stroke-linejoin="round"/><path d="M607.36 299.03L613.65 302.57L617.25 297.61L642.46 304.09L638.62 321.14L638.49 324.13L628.93 321.88L624.42 321.80L618.06 321.54L612.79 320.79L611.16 317.82L610.72 315.91L606.42 313.71L607.40 308.87L607.65 303.25Z" fill="#69c0d7" stroke="#4f93a6" stroke-width="0.5" stroke-linejoin="round"/><path d="M606.42 313.71L610.72 315.91L611.16 317.82L612.79 320.79L618.06 321.54L624.42 321.80L628.93 321.88L638.49 324.13L639.86 327.23L637.26 332.28L634.61 335.20L634.66 338.74L631.94 350.84L617.35 347.32L596.91 341.56L597.09 335.84L600.81 330.50L605.33 318.95Z" fill="#69c1d8" stroke="#4f93a6" stroke-width="0.5" stroke-linejoin="round"/><path d="M596.91 341.56L617.35 347.32L612.17 367.39L634.39 400.83L634.45 402.25L636.16 406.31L634.25 407.28L632.35 414.29L630.82 416.16L617.08 414.58L616.94 410.52L613.53 405.12L611.78 402.72L608.15 400.97L601.23 396.34L601.84 391.86L597.46 382.78L598.02 380.78L596.59 373.91L597.16 371.91L594.97 369.84L593.17 362.81L594.46 356.70L592.73 352.56L595.38 348.31Z" fill="#3c8298" stroke="#4f93a6" stroke-width="0.5" stroke-linejoin="round"/><path d="M664.88 336.15L698.50 340.26L696.17 367.71L660.54 363.36Z" fill="#6cc5dc" stroke="#4f93a6" stroke-width="0.5" stroke-linejoin="round"/><path d="M646.74 353.93L661.63 356.54L660.54 363.36L670.68 364.87L666.90 392.28L640.22 387.88Z" fill="#66bcd2" stroke="#4f93a6" stroke-width="0.5" stroke-linejoin="round"/><path d="M670.68 364.87L706.39 368.47L704.63 396.08L666.90 392.28Z" fill="#61b5cc" stroke="#4f93a6" stroke-width="0.5" stroke-linejoin="round"/><path d="M699.50 395.73L744.88 397.07L746.09 408.12L746.01 420.28L740.22 418.68L734.57 419.24L730.61 419.55L726.12 417.74L719.43 415.49L715.02 413.52L715.58 400.13L699.24 399.18Z" fill="#6ac2d9" stroke="#4f93a6" stroke-width="0.5" stroke-linejoin="round"/><path d="M699.24 399.18L715.58 400.13L715.02 413.52L719.43 415.49L726.12 417.74L730.61 419.55L734.57 419.24L740.22 418.68L746.01 420.28L748.51 420.85L748.73 431.54L750.22 435.63L750.96 442.49L750.25 447.31L745.17 449.80L742.79 451.54L734.98 456.35L730.09 461.09L728.80 465.84L728.70 472.64L730.25 473.00L723.74 471.87L718.25 468.99L716.03 462.10L711.36 457.13L709.25 450.87L705.32 446.06L700.03 444.98L697.57 446.05L694.83 450.86L690.23 448.23L686.84 445.88L684.46 439.46L679.25 432.72L676.46 429.79L676.11 428.22L696.73 430.15Z" fill="#53a2b8" stroke="#4f93a6" stroke-width="0.5" stroke-linejoin="round"/><path d="M748.59 424.51L764.97 424.06L766.23 429.52L763.09 436.56L762.98 437.94L774.08 437.32L775.21 442.75L777.62 443.27L776.54 444.72L779.21 448.65L775.72 450.27L772.13 450.50L765.48 449.50L759.45 448.05L750.25 447.31L750.96 442.49L750.22 435.63L748.73 431.54Z" fill="#6cc4db" stroke="#4f93a6" stroke-width="0.5" stroke-linejoin="round"/><path d="M738.59 372.36L759.41 371.66L761.19 373.17L761.06 375.81L763.61 379.83L765.86 382.48L768.05 383.74L767.51 387.93L771.73 391.13L774.36 395.45L774.42 398.57L772.83 399.37L771.98 402.90L769.87 402.69L769.30 399.60L744.93 400.53L744.88 397.07L744.77 382.20L742.11 379.81L742.87 377.38L741.04 376.36Z" fill="#6cc5dc" stroke="#4f93a6" stroke-width="0.5" stroke-linejoin="round"/><path d="M731.80 314.60L741.27 314.62L741.25 312.05L742.74 312.57L743.80 316.48L747.49 317.77L753.00 318.08L758.18 320.59L765.08 319.86L767.42 320.39L761.69 325.52L755.77 329.55L754.86 330.27L755.03 334.71L752.98 337.53L752.88 341.65L755.42 344.65L758.45 346.93L761.04 351.62L735.17 352.21L735.23 339.84L734.70 339.84L734.73 335.46L733.62 330.94L733.45 324.12L732.37 316.64Z" fill="#6bc4db" stroke="#4f93a6" stroke-width="0.5" stroke-linejoin="round"/><path d="M754.86 330.27L755.77 329.55L759.98 328.68L763.84 330.31L765.38 332.14L770.21 333.18L774.56 333.87L776.67 336.10L777.93 339.43L780.72 338.14L778.41 344.90L777.91 350.47L778.51 357.33L764.29 358.35L761.81 355.03L761.04 351.62L758.45 346.93L755.42 344.65L752.88 341.65L752.98 337.53L755.03 334.71Z" fill="#6cc4db" stroke="#4f93a6" stroke-width="0.5" stroke-linejoin="round"/><path d="M764.29 358.35L778.51 357.33L780.31 362.30L781.79 378.89L781.64 381.33L779.98 383.56L780.54 386.98L779.97 389.81L779.88 391.90L774.36 395.45L771.73 391.13L767.51 387.93L768.05 383.74L765.86 382.48L763.61 379.83L761.06 375.81L761.19 373.17L762.62 370.88L762.96 367.41L766.37 364.45L766.96 361.65Z" fill="#62b6cd" stroke="#4f93a6" stroke-width="0.5" stroke-linejoin="round"/><path d="M780.31 362.30L784.00 361.95L794.09 360.87L796.14 379.14L794.47 382.12L791.61 385.22L789.07 386.53L785.51 388.62L782.31 388.91L779.97 389.81L780.54 386.98L779.98 383.56L781.64 381.33L781.79 378.89Z" fill="#64b9d0" stroke="#4f93a6" stroke-width="0.5" stroke-linejoin="round"/><path d="M794.09 360.87L800.91 360.22L804.95 361.62L809.94 360.54L815.34 356.33L816.84 365.46L816.55 367.19L815.97 370.79L816.30 372.84L813.21 375.07L812.17 376.98L810.85 380.68L808.42 382.42L806.00 380.46L802.68 381.60L799.64 380.80L796.14 379.14Z" fill="#67bed5" stroke="#4f93a6" stroke-width="0.5" stroke-linejoin="round"/><path d="M784.00 361.95L794.09 360.87L800.91 360.22L802.33 357.45L804.84 353.62L804.94 350.82L803.86 346.80L801.48 344.01L798.70 345.43L799.12 341.21L798.19 337.87L794.88 334.85L791.30 333.22L790.11 335.43L787.62 339.16L785.09 342.88L784.11 347.82L786.29 354.52L785.28 359.47Z" fill="#68c0d7" stroke="#4f93a6" stroke-width="0.5" stroke-linejoin="round"/><path d="M763.84 330.31L768.41 327.83L772.88 324.76L774.65 323.59L777.08 329.88L782.26 329.39L789.12 326.93L791.24 328.75L793.54 328.12L796.25 330.53L791.25 332.88L787.27 331.61L782.74 334.16L777.93 339.43L776.67 336.10L774.56 333.87L770.21 333.18L765.38 332.14Z" fill="#68c0d7" stroke="#4f93a6" stroke-width="0.5" stroke-linejoin="round"/><path d="M772.83 399.37L780.72 398.77L780.35 397.55L804.34 395.55L808.61 391.48L809.92 389.20L812.61 387.83L808.61 383.79L808.42 382.42L806.00 380.46L802.68 381.60L799.64 380.80L796.14 379.14L794.47 382.12L791.61 385.22L789.07 386.53L785.51 388.62L782.31 388.91L779.97 389.81L779.88 391.90L774.36 395.45L774.42 398.57Z" fill="#66bdd3" stroke="#4f93a6" stroke-width="0.5" stroke-linejoin="round"/><path d="M769.66 409.97L780.76 409.18L802.24 406.97L806.25 402.55L809.17 399.43L813.91 397.71L815.30 394.07L804.34 395.55L780.35 397.55L780.72 398.77L772.83 399.37L771.98 402.90L770.80 406.09Z" fill="#65bbd2" stroke="#4f93a6" stroke-width="0.5" stroke-linejoin="round"/><path d="M780.76 409.18L795.17 407.93L799.38 422.60L800.63 425.92L800.78 430.76L801.66 434.81L786.52 436.36L787.53 441.10L784.42 439.30L782.18 440.86L780.95 430.61Z" fill="#65bbd2" stroke="#4f93a6" stroke-width="0.5" stroke-linejoin="round"/><path d="M795.17 407.93L808.97 406.09L811.10 409.28L815.13 413.59L819.88 418.46L823.10 424.23L822.23 429.94L822.28 434.10L819.52 435.49L818.34 435.60L802.72 436.76L801.66 434.81L800.78 430.76L800.63 425.92L799.38 422.60Z" fill="#53a1b8" stroke="#4f93a6" stroke-width="0.5" stroke-linejoin="round"/><path d="M786.52 436.36L801.66 434.81L802.72 436.76L818.34 435.60L819.52 435.49L822.28 434.10L825.20 441.29L829.94 448.16L834.62 457.75L836.36 464.35L834.80 470.12L830.57 471.49L826.04 466.70L822.17 461.78L818.17 455.47L817.31 449.38L815.06 446.24L810.19 441.37L806.53 440.79L802.77 444.35L800.33 443.94L795.10 439.67L787.53 441.10Z" fill="#5bacc3" stroke="#4f93a6" stroke-width="0.5" stroke-linejoin="round"/><path d="M808.97 406.09L812.63 404.18L820.09 403.40L821.85 405.57L827.90 404.56L835.40 409.81L832.59 414.95L828.79 419.81L824.70 423.28L823.10 424.23L819.88 418.46L815.13 413.59L811.10 409.28Z" fill="#69c1d8" stroke="#4f93a6" stroke-width="0.5" stroke-linejoin="round"/><path d="M802.24 406.97L808.97 406.09L812.63 404.18L820.09 403.40L821.85 405.57L827.90 404.56L835.40 409.81L838.83 408.18L841.88 403.35L845.58 401.89L847.59 397.94L850.30 397.35L847.51 392.30L846.33 388.66L815.30 394.07L813.91 397.71L809.17 399.43L806.25 402.55Z" fill="#5badc4" stroke="#4f93a6" stroke-width="0.5" stroke-linejoin="round"/><path d="M804.34 395.55L815.30 394.07L846.33 388.66L842.87 386.21L842.12 380.01L838.04 378.73L836.45 376.23L836.56 374.09L834.08 372.47L832.40 372.09L829.70 371.90L827.62 375.10L825.16 379.41L824.12 382.75L821.53 386.70L818.03 388.67L812.61 387.83L809.92 389.20L808.61 391.48Z" fill="#6bc3da" stroke="#4f93a6" stroke-width="0.5" stroke-linejoin="round"/><path d="M823.22 370.83L842.13 367.13L844.44 375.55L847.83 374.87L847.42 377.94L844.14 379.22L842.07 377.19L841.30 370.99L839.24 371.42L840.77 377.46L838.04 378.73L836.45 376.23L836.56 374.09L834.08 372.47L832.40 372.09L828.93 370.64L825.96 371.89L823.85 374.37Z" fill="#6ac2d9" stroke="#4f93a6" stroke-width="0.5" stroke-linejoin="round"/><path d="M842.13 367.13L843.45 366.07L843.76 368.69L847.30 372.51L847.83 374.87L844.44 375.55Z" fill="#6ac2d9" stroke="#4f93a6" stroke-width="0.5" stroke-linejoin="round"/><path d="M815.34 356.33L818.79 353.72L819.11 355.56L840.93 351.27L842.52 352.33L845.18 354.91L844.02 359.07L843.82 360.53L847.03 363.00L843.45 366.07L842.13 367.13L817.87 371.74Z" fill="#67bed5" stroke="#4f93a6" stroke-width="0.5" stroke-linejoin="round"/><path d="M845.18 354.91L849.72 356.34L849.69 358.48L850.49 361.84L849.56 367.03L847.87 371.46L843.76 368.69L845.38 365.14L847.03 363.00L843.82 360.53L844.02 359.07Z" fill="#6cc4db" stroke="#4f93a6" stroke-width="0.5" stroke-linejoin="round"/><path d="M819.11 355.56L818.79 353.72L822.28 348.69L821.30 346.07L828.67 345.03L834.64 342.05L833.17 337.44L836.99 332.05L839.60 330.41L845.96 328.91L848.23 338.26L850.10 343.83L850.01 348.82L851.23 353.85L850.97 356.05L849.72 356.34L845.18 354.91L842.52 352.33L840.93 351.27Z" fill="#6ac2d9" stroke="#4f93a6" stroke-width="0.5" stroke-linejoin="round"/><path d="M849.85 359.15L850.04 357.69L859.00 353.33L859.59 353.54L851.94 359.01Z" fill="#6ac2d9" stroke="#4f93a6" stroke-width="0.5" stroke-linejoin="round"/><path d="M854.62 326.65L856.06 324.20L859.80 336.01L861.81 338.31L861.74 339.97L859.63 341.75L854.01 343.00L852.78 337.13L853.49 331.98L854.81 327.38Z" fill="#6ac2d9" stroke="#4f93a6" stroke-width="0.5" stroke-linejoin="round"/><path d="M850.01 348.82L858.40 346.93L860.45 346.39L860.66 347.19L862.75 349.49L865.20 348.83L867.77 346.68L867.22 344.69L864.78 345.36L862.41 342.44L861.74 339.97L859.63 341.75L854.01 343.00L850.10 343.83Z" fill="#6ac2d8" stroke="#4f93a6" stroke-width="0.5" stroke-linejoin="round"/><path d="M643.86 447.38L643.18 472.80L641.15 473.72L639.14 473.77L635.98 472.10L633.81 473.67L631.20 474.89L628.37 475.47L629.42 471.95L631.68 470.21L627.96 472.62L626.14 474.91L623.57 477.07L621.24 477.80L620.31 475.91L619.12 475.09L617.22 474.37L615.41 471.29L613.08 470.02L612.19 467.67L612.78 465.49L612.93 463.46L615.03 462.08L617.27 462.19L619.91 461.75L620.82 459.68L620.23 458.95L618.15 458.06L615.48 457.19L614.50 453.85L616.67 452.85L619.48 452.91L621.76 452.71L620.36 451.14L619.53 448.53L618.64 447.33L621.82 446.64L623.29 445.36L625.34 443.64L627.92 442.87L630.18 441.95L631.91 443.35L634.06 443.90L635.67 445.15L637.89 445.82L640.17 446.14L642.03 446.12Z" fill="#f5f5f7" stroke="#7a7a7a" stroke-width="0.5"/><path d="M623.15 480.10L625.36 480.70L626.99 479.78L626.20 478.01L624.22 478.58Z" fill="#f5f5f7" stroke="#7a7a7a" stroke-width="0.5"/><polyline points="623.10,477.84 617.50,480.75 612.40,482.39 607.14,483.76 600.79,485.09" fill="none" stroke="#9a9a9a" stroke-width="1.3" stroke-dasharray="1.4 0.6"/><path d="M643.2 472.6L647.5 473.8L652.5 477L657.5 481L660.8 484.5L659.2 486.5L655.5 484.2L651 480.5L646.5 476.5L643 474Z" fill="#b0b0b0" stroke="#909090" stroke-width="0.5"/><path d="M611 460L613 461.5L612 462.5Z" fill="none" stroke="#999" stroke-width="0.6"/><path d="M691.3 478.2L693 477.1L697 481.5L693.5 484.6L691.5 482Z" fill="#f5f5f7" stroke="#8a8a8a" stroke-width="0.6"/><path d="M684.2 472.4L687.5 473.2L691.2 474.6L690 475.6L686 474.5Z" fill="#999" stroke="#8a8a8a" stroke-width="0.5"/><path d="M679.5 470.4L682 470.8L682.6 471.9L680.5 471.8Z" fill="#999" stroke="#8a8a8a" stroke-width="0.5"/><path d="M671.6 467.3L673.8 467.4L674 468.6L672 468.6Z" fill="#aaa" stroke="#999" stroke-width="0.5"/><circle cx="669.4" cy="468.3" r="0.6" fill="#777"/><path d="M757.3 459.2L776.5 458.8L778.5 461.5L778.3 465.5L770 466.8L758 467.2L757.2 463Z" fill="#f5f5f7" stroke="#858585" stroke-width="0.55" stroke-linejoin="round"/><path d="M779.8 463.5L781.5 462.8L783 461L782.6 463.8L780.3 464.4Z" fill="#f5f5f7" stroke="#858585" stroke-width="0.55" stroke-linejoin="round"/><path d="M788.2 460.4L791.5 458.6L795 459.5L796.2 462L790.5 461.6Z" fill="#f5f5f7" stroke="#858585" stroke-width="0.55" stroke-linejoin="round"/><path d="M798.4 460.2L802.4 459.6L803.8 461.3L800 462.5L798.3 461.5Z" fill="#f5f5f7" stroke="#858585" stroke-width="0.55" stroke-linejoin="round"/><path d="M792 466.6L797.5 465.5L801.8 466.3L796.5 468.4L792.3 468.2Z" fill="#f5f5f7" stroke="#858585" stroke-width="0.55" stroke-linejoin="round"/><path d="M764.5 471L767.6 472.5L765.8 475.5L763.5 479L762 484.2L759 486L756.8 484.5L757 480L760.5 477L763 474Z" fill="#f5f5f7" stroke="#858585" stroke-width="0.55" stroke-linejoin="round"/><path d="M772 480.5L775.5 477.7L780 478L784.8 478.5L779.5 480L776.5 482.5L772.5 482.3Z" fill="#f5f5f7" stroke="#858585" stroke-width="0.55" stroke-linejoin="round"/><path d="M801.2 472.3L802.2 473.5L799.5 477.3L798.4 476.5Z" fill="#f5f5f7" stroke="#858585" stroke-width="0.55" stroke-linejoin="round"/><path d="M794.5 482.8L796 482.6L793 485.3L791.6 484.8Z" fill="#f5f5f7" stroke="#858585" stroke-width="0.55" stroke-linejoin="round"/></svg>
<div style="position:absolute;left:622.01px;top:308.3px;width:8.38px;height:6.8px;background:rgba(240,250,253,0.62);border-radius:1px"></div>
<div class="t " style="left:623.25px;top:310.00px;font-size:5.3px;color:#333;-webkit-text-stroke:0.15px #333;">93</div>
<div style="position:absolute;left:612.31px;top:330.3px;width:8.38px;height:6.8px;background:rgba(240,250,253,0.62);border-radius:1px"></div>
<div class="t " style="left:613.55px;top:332.00px;font-size:5.3px;color:#333;-webkit-text-stroke:0.15px #333;">82</div>
<div style="position:absolute;left:675.01px;top:349.4px;width:8.38px;height:6.8px;background:rgba(240,250,253,0.62);border-radius:1px"></div>
<div class="t " style="left:676.25px;top:351.00px;font-size:5.3px;color:#333;-webkit-text-stroke:0.15px #333;">14</div>
<div style="position:absolute;left:649.96px;top:374.0px;width:11.28px;height:6.8px;background:rgba(240,250,253,0.62);border-radius:1px"></div>
<div class="t " style="left:651.18px;top:375.00px;font-size:5.3px;color:#333;-webkit-text-stroke:0.15px #333;">164</div>
<div style="position:absolute;left:680.76px;top:377.1px;width:11.28px;height:6.8px;background:rgba(240,250,253,0.62);border-radius:1px"></div>
<div class="t " style="left:681.98px;top:378.00px;font-size:5.3px;color:#333;-webkit-text-stroke:0.15px #333;">260</div>
<div style="position:absolute;left:608.72px;top:387.8px;width:14.17px;height:6.8px;background:rgba(240,250,253,0.62);border-radius:1px"></div>
<div class="t " style="left:609.90px;top:389.00px;font-size:5.3px;color:#333;-webkit-text-stroke:0.15px #333;">1065</div>
<div style="position:absolute;left:740.41px;top:334.9px;width:8.38px;height:6.8px;background:rgba(240,250,253,0.62);border-radius:1px"></div>
<div class="t " style="left:741.65px;top:336.00px;font-size:5.3px;color:#333;-webkit-text-stroke:0.15px #333;">35</div>
<div style="position:absolute;left:758.91px;top:336.9px;width:8.38px;height:6.8px;background:rgba(240,250,253,0.62);border-radius:1px"></div>
<div class="t " style="left:760.15px;top:338.00px;font-size:5.3px;color:#333;-webkit-text-stroke:0.15px #333;">25</div>
<div style="position:absolute;left:787.71px;top:346.1px;width:8.38px;height:6.8px;background:rgba(240,250,253,0.62);border-radius:1px"></div>
<div class="t " style="left:788.95px;top:347.00px;font-size:5.3px;color:#333;-webkit-text-stroke:0.15px #333;">99</div>
<div style="position:absolute;left:835.91px;top:341.6px;width:8.38px;height:6.8px;background:rgba(240,250,253,0.62);border-radius:1px"></div>
<div class="t " style="left:837.15px;top:343.00px;font-size:5.3px;color:#333;-webkit-text-stroke:0.15px #333;">57</div>
<div style="position:absolute;left:851.31px;top:332.2px;width:8.38px;height:6.8px;background:rgba(240,250,253,0.62);border-radius:1px"></div>
<div class="t " style="left:852.55px;top:334.00px;font-size:5.3px;color:#333;-webkit-text-stroke:0.15px #333;">59</div>
<div style="position:absolute;left:851.31px;top:342.0px;width:8.38px;height:6.8px;background:rgba(240,250,253,0.62);border-radius:1px"></div>
<div class="t " style="left:852.55px;top:343.00px;font-size:5.3px;color:#333;-webkit-text-stroke:0.15px #333;">70</div>
<div style="position:absolute;left:824.26px;top:358.5px;width:11.28px;height:6.8px;background:rgba(240,250,253,0.62);border-radius:1px"></div>
<div class="t " style="left:825.48px;top:360.00px;font-size:5.3px;color:#333;-webkit-text-stroke:0.15px #333;">130</div>
<div style="position:absolute;left:843.71px;top:362.2px;width:8.38px;height:6.8px;background:rgba(240,250,253,0.62);border-radius:1px"></div>
<div class="t " style="left:844.95px;top:364.00px;font-size:5.3px;color:#333;-webkit-text-stroke:0.15px #333;">24</div>
<div style="position:absolute;left:833.91px;top:367.7px;width:8.38px;height:6.8px;background:rgba(240,250,253,0.62);border-radius:1px"></div>
<div class="t " style="left:835.15px;top:369.00px;font-size:5.3px;color:#333;-webkit-text-stroke:0.15px #333;">67</div>
<div style="position:absolute;left:843.11px;top:369.8px;width:8.38px;height:6.8px;background:rgba(240,250,253,0.62);border-radius:1px"></div>
<div class="t " style="left:844.35px;top:371.00px;font-size:5.3px;color:#333;-webkit-text-stroke:0.15px #333;">58</div>
<div style="position:absolute;left:766.76px;top:371.8px;width:11.28px;height:6.8px;background:rgba(240,250,253,0.62);border-radius:1px"></div>
<div class="t " style="left:767.98px;top:373.00px;font-size:5.3px;color:#333;-webkit-text-stroke:0.15px #333;">249</div>
<div style="position:absolute;left:782.16px;top:370.8px;width:11.28px;height:6.8px;background:rgba(240,250,253,0.62);border-radius:1px"></div>
<div class="t " style="left:783.38px;top:372.00px;font-size:5.3px;color:#333;-webkit-text-stroke:0.15px #333;">199</div>
<div style="position:absolute;left:798.56px;top:367.3px;width:11.28px;height:6.8px;background:rgba(240,250,253,0.62);border-radius:1px"></div>
<div class="t " style="left:799.78px;top:369.00px;font-size:5.3px;color:#333;-webkit-text-stroke:0.15px #333;">123</div>
<div style="position:absolute;left:792.36px;top:386.6px;width:11.28px;height:6.8px;background:rgba(240,250,253,0.62);border-radius:1px"></div>
<div class="t " style="left:793.58px;top:388.00px;font-size:5.3px;color:#333;-webkit-text-stroke:0.15px #333;">148</div>
<div style="position:absolute;left:826.71px;top:381.5px;width:8.38px;height:6.8px;background:rgba(240,250,253,0.62);border-radius:1px"></div>
<div class="t " style="left:827.95px;top:383.00px;font-size:5.3px;color:#333;-webkit-text-stroke:0.15px #333;">51</div>
<div style="position:absolute;left:751.71px;top:385.2px;width:8.38px;height:6.8px;background:rgba(240,250,253,0.62);border-radius:1px"></div>
<div class="t " style="left:752.95px;top:386.00px;font-size:5.3px;color:#333;-webkit-text-stroke:0.15px #333;">19</div>
<div style="position:absolute;left:731.21px;top:405.3px;width:8.38px;height:6.8px;background:rgba(240,250,253,0.62);border-radius:1px"></div>
<div class="t " style="left:732.45px;top:407.00px;font-size:5.3px;color:#333;-webkit-text-stroke:0.15px #333;">65</div>
<div style="position:absolute;left:783.16px;top:398.8px;width:11.28px;height:6.8px;background:rgba(240,250,253,0.62);border-radius:1px"></div>
<div class="t " style="left:784.38px;top:400.00px;font-size:5.3px;color:#333;-webkit-text-stroke:0.15px #333;">174</div>
<div style="position:absolute;left:825.26px;top:396.1px;width:11.28px;height:6.8px;background:rgba(240,250,253,0.62);border-radius:1px"></div>
<div class="t " style="left:826.48px;top:397.00px;font-size:5.3px;color:#333;-webkit-text-stroke:0.15px #333;">392</div>
<div style="position:absolute;left:818.51px;top:407.4px;width:8.38px;height:6.8px;background:rgba(240,250,253,0.62);border-radius:1px"></div>
<div class="t " style="left:819.75px;top:409.00px;font-size:5.3px;color:#333;-webkit-text-stroke:0.15px #333;">77</div>
<div style="position:absolute;left:784.16px;top:418.7px;width:11.28px;height:6.8px;background:rgba(240,250,253,0.62);border-radius:1px"></div>
<div class="t " style="left:785.38px;top:420.00px;font-size:5.3px;color:#333;-webkit-text-stroke:0.15px #333;">168</div>
<div style="position:absolute;left:800.66px;top:418.7px;width:11.28px;height:6.8px;background:rgba(240,250,253,0.62);border-radius:1px"></div>
<div class="t " style="left:801.88px;top:420.00px;font-size:5.3px;color:#333;-webkit-text-stroke:0.15px #333;">571</div>
<div style="position:absolute;left:753.81px;top:432.5px;width:8.38px;height:6.8px;background:rgba(240,250,253,0.62);border-radius:1px"></div>
<div class="t " style="left:755.05px;top:434.00px;font-size:5.3px;color:#333;-webkit-text-stroke:0.15px #333;">28</div>
<div style="position:absolute;left:722.56px;top:434.7px;width:11.28px;height:6.8px;background:rgba(240,250,253,0.62);border-radius:1px"></div>
<div class="t " style="left:723.78px;top:436.00px;font-size:5.3px;color:#333;-webkit-text-stroke:0.15px #333;">564</div>
<div style="position:absolute;left:818.06px;top:448.9px;width:11.28px;height:6.8px;background:rgba(240,250,253,0.62);border-radius:1px"></div>
<div class="t " style="left:819.28px;top:450.00px;font-size:5.3px;color:#333;-webkit-text-stroke:0.15px #333;">403</div>
<div style="position:absolute;left:530px;top:493.9px;width:412px;height:5.6px;background:linear-gradient(to right,#6dc6dd,#34768c)"></div>
<div style="position:absolute;left:612.0px;top:493.9px;width:0.8px;height:5.6px;background:rgba(255,255,255,0.85)"></div>
<div style="position:absolute;left:694.4px;top:493.9px;width:0.8px;height:5.6px;background:rgba(255,255,255,0.85)"></div>
<div style="position:absolute;left:776.8000000000001px;top:493.9px;width:0.8px;height:5.6px;background:rgba(255,255,255,0.85)"></div>
<div style="position:absolute;left:859.2px;top:493.9px;width:0.8px;height:5.6px;background:rgba(255,255,255,0.85)"></div>
<div class="t " style="left:530.00px;top:505.00px;font-size:6.9px;color:#454545;">0</div>
<div class="t " style="left:606.64px;top:505.00px;font-size:6.9px;color:#454545;">250</div>
<div class="t " style="left:689.04px;top:505.00px;font-size:6.9px;color:#454545;">500</div>
<div class="t " style="left:771.44px;top:505.00px;font-size:6.9px;color:#454545;">750</div>
<div class="t " style="left:851.92px;top:505.00px;font-size:6.9px;color:#454545;">1000</div>
<div class="t " style="left:926.65px;top:505.00px;font-size:6.9px;color:#454545;">1250</div></body></html>
